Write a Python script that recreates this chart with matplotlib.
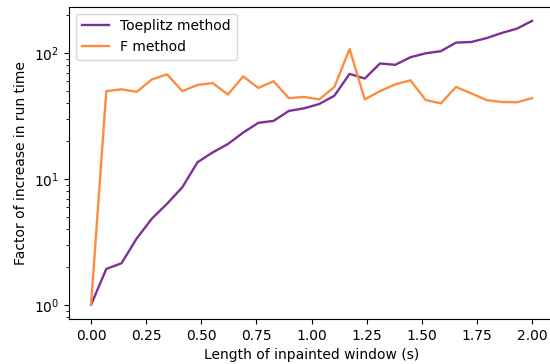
import numpy as np
import matplotlib
matplotlib.use("Agg")
import matplotlib.pyplot as plt

x = np.linspace(0, 2, 30)
toeplitz = [1.0, 1.93, 2.14, 3.37, 4.85, 6.37, 8.6, 13.6, 16.3, 19.0,
            23.4, 28.0, 29.0, 34.8, 36.5, 39.5, 46.0, 68.6, 63.0, 83.0,
            81.0, 93.0, 100.0, 104.0, 121.6, 123.0, 132.0, 145.0, 157.0, 181.0]
f_method = [1.0, 50.0, 51.7, 49.4, 62.0, 68.0, 50.0, 56.0, 58.0, 47.0,
            65.5, 53.0, 60.0, 44.0, 45.0, 43.0, 54.0, 108.0, 43.0, 50.0,
            56.6, 61.0, 42.5, 40.0, 54.0, 48.0, 42.5, 41.0, 40.8, 44.0]

fig = plt.figure(figsize=(5.5, 3.64), dpi=100)
ax = fig.add_axes([0.1255, 0.1236, 0.882, 0.858])
ax.plot(x, toeplitz, color="#7b3294", lw=1.7, label="Toeplitz method")
ax.plot(x, f_method, color="#fd8d3c", lw=1.7, label="F method")
ax.set_yscale("log")
ax.set_xticks([0, 0.25, 0.5, 0.75, 1.0, 1.25, 1.5, 1.75, 2.0])
ax.set_xlabel("Length of inpainted window (s)")
ax.set_ylabel("Factor of increase in run time")
ax.legend(loc="upper left")
fig.savefig("out.png", dpi=100)
